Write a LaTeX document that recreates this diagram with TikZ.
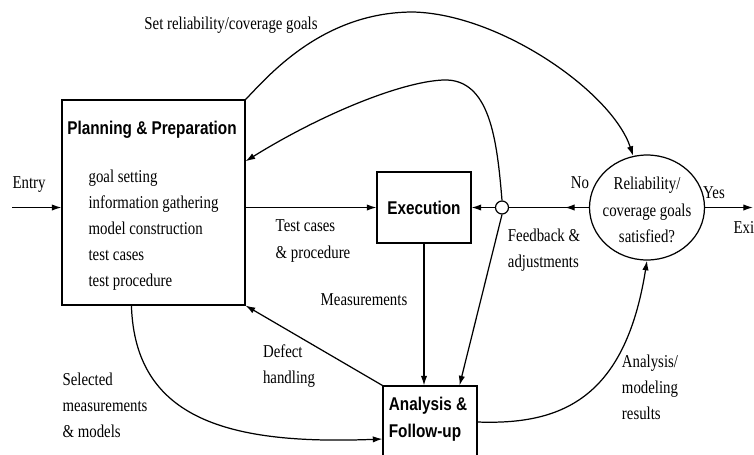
\documentclass[tikz,border=0pt]{standalone}
\usepackage{fontspec}
\setmainfont{Liberation Serif}[FakeStretch=0.82]
\newfontfamily\headfont{Liberation Sans}[FakeStretch=0.83]
\usetikzlibrary{arrows.meta,shapes.geometric,calc,decorations.markings}

\begin{document}
\begin{tikzpicture}[x=0.02cm, y=-0.02cm, line width=0.7pt,
  font=\fontsize{10.3}{14.9}\selectfont,
  box/.style={draw, rectangle, inner sep=0pt, line width=0.6pt},
  lbl/.style={inner sep=0pt, align=left},
  head/.style={inner sep=0pt, align=left, font=\fontsize{10.5}{15.5}\selectfont\headfont\bfseries},
  arr/.style={-{Latex[length=5.5pt,width=3.6pt]}},
  midarr/.style={postaction={decorate}, decoration={markings,
    mark=at position #1 with {\arrow{Latex[length=5.5pt,width=3.6pt]}}}}]
\useasboundingbox (0,0) rectangle (754,454);
\clip (0,0) rectangle (754,454);
\node[box, minimum width=3.66cm, minimum height=4.1cm] (plan) at (153.5,202.5) {};
\node[head] (plantitle) at (152,130) {Planning \& Preparation};
\node[lbl, anchor=west] (planlist) at (88,230) {goal setting\\information gathering\\model construction\\test cases\\test procedure};
\node[box, minimum width=1.88cm, minimum height=1.42cm, font=\fontsize{10.5}{15.5}\selectfont\headfont\bfseries] (exec) at (424,207.5) {Execution};
\node[draw, circle, fill=white, inner sep=0pt, minimum size=0.26cm] (junc) at (502,207.5) {};
\node[draw, ellipse, inner sep=0pt, minimum width=2.3cm, minimum height=2.1cm] (goal) at (647,207.5) {};
\node[inner sep=0pt, align=center] (goaltxt) at (647,210) {Reliability/\\coverage goals\\satisfied?};
\node[box, minimum width=1.88cm, minimum height=1.68cm] (ana) at (430,428) {};
\node[head] (anatxt) at (428,419) {Analysis \&\\Follow-up};
\coordinate (entry) at (12,207.5);
\coordinate (exit) at (753,207.5);
\node[lbl] (entrylbl) at (29,185) {Entry};
\node[lbl] (setlbl) at (231,25) {Set reliability/coverage goals};
\node[lbl] (tclbl) at (313,241) {Test cases\\\& procedure};
\node[lbl] (measlbl) at (364,300) {Measurements};
\node[lbl] (deflbl) at (289,366) {Defect\\handling};
\node[lbl] (sellbl) at (105,405) {Selected\\measurements\\\& models};
\node[lbl] (reslbl) at (650,387) {Analysis/\\modeling\\results};
\node[lbl] (fblbl) at (544,250) {Feedback \&\\adjustments};
\node[lbl] (nolbl) at (580,183) {No};
\node[lbl] (yeslbl) at (714,193) {Yes};
\node[lbl, anchor=west] (exitlbl) at (733,228) {Exit};
\draw[arr] (entry) -- (entry -| plan.west);
\draw[arr] (plan.east |- exec.west) -- (exec.west);
\draw[arr] (junc.west) -- (exec.east);
\draw[midarr=0.3] (goal.west) -- (junc.east);
\draw[arr] (goal.east) -- (exit);
\draw[arr] (exec.south) -- (exec.south |- ana.north);
\draw[arr] (junc.south) -- ($(ana.north east)+(-18,0)$);
\draw[arr] (junc.north) .. controls (497,140) and (490,78) .. (443,80) .. controls (400,82) and (320,115) .. ($(plan.north east)!0.3!(plan.south east)$);
\draw[arr] (plan.north east) .. controls (265,80) and (320,12) .. (413,12) .. controls (500,14) and (612,92) .. (goal.105);
\draw[arr] (ana.north west) -- (plan.south east);
\draw[arr] ($(plan.south west)!0.38!(plan.south east)$) .. controls (135,420) and (230,445) .. (ana.west |- 0,439);
\draw[arr] (ana.east |- 0,422) .. controls (560,425) and (625,400) .. (goal.south);
\end{tikzpicture}
\end{document}
